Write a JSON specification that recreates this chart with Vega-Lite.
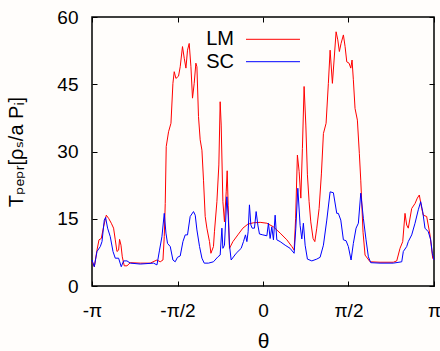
{
  "$schema": "https://vega.github.io/schema/vega-lite/v6.json",
  "width": 342,
  "height": 269,
  "autosize": {"type": "none"},
  "padding": {"left": 92, "top": 17, "right": 6, "bottom": 65},
  "background": "#fffdfb",
  "config": {
    "view": {"stroke": "#000000", "strokeWidth": 1.5},
    "font": "Liberation Sans",
    "axis": {"grid": false, "domain": false, "tickColor": "#000000", "tickWidth": 1, "tickSize": -5, "labelColor": "#000000", "titleColor": "#000000", "labelFont": "Liberation Sans", "titleFont": "Liberation Sans, DejaVu Sans", "titleFontWeight": "normal"}
  },
  "data": {"values": [
    {"series":"LM","theta":-3.1416,"value":5.4},
    {"series":"LM","theta":-3.099,"value":4.3},
    {"series":"LM","theta":-3.050,"value":8.0},
    {"series":"LM","theta":-3.013,"value":10.3},
    {"series":"LM","theta":-2.971,"value":10.6},
    {"series":"LM","theta":-2.929,"value":13.2},
    {"series":"LM","theta":-2.879,"value":15.8},
    {"series":"LM","theta":-2.837,"value":15.1},
    {"series":"LM","theta":-2.787,"value":14.0},
    {"series":"LM","theta":-2.745,"value":12.9},
    {"series":"LM","theta":-2.714,"value":10.3},
    {"series":"LM","theta":-2.683,"value":7.7},
    {"series":"LM","theta":-2.653,"value":8.0},
    {"series":"LM","theta":-2.635,"value":10.4},
    {"series":"LM","theta":-2.609,"value":9.1},
    {"series":"LM","theta":-2.585,"value":6.5},
    {"series":"LM","theta":-2.549,"value":4.5},
    {"series":"LM","theta":-2.499,"value":4.5},
    {"series":"LM","theta":-2.438,"value":5.2},
    {"series":"LM","theta":-2.255,"value":5.1},
    {"series":"LM","theta":-2.071,"value":5.1},
    {"series":"LM","theta":-1.948,"value":5.8},
    {"series":"LM","theta":-1.888,"value":5.4},
    {"series":"LM","theta":-1.838,"value":5.8},
    {"series":"LM","theta":-1.814,"value":11.0},
    {"series":"LM","theta":-1.796,"value":18.4},
    {"series":"LM","theta":-1.778,"value":31.1},
    {"series":"LM","theta":-1.735,"value":34.4},
    {"series":"LM","theta":-1.691,"value":36.3},
    {"series":"LM","theta":-1.655,"value":45.2},
    {"series":"LM","theta":-1.631,"value":47.8},
    {"series":"LM","theta":-1.600,"value":46.3},
    {"series":"LM","theta":-1.552,"value":46.8},
    {"series":"LM","theta":-1.521,"value":48.9},
    {"series":"LM","theta":-1.479,"value":53.4},
    {"series":"LM","theta":-1.447,"value":50.8},
    {"series":"LM","theta":-1.416,"value":48.6},
    {"series":"LM","theta":-1.387,"value":52.6},
    {"series":"LM","theta":-1.356,"value":54.1},
    {"series":"LM","theta":-1.324,"value":48.9},
    {"series":"LM","theta":-1.295,"value":41.9},
    {"series":"LM","theta":-1.264,"value":45.2},
    {"series":"LM","theta":-1.233,"value":49.7},
    {"series":"LM","theta":-1.214,"value":48.9},
    {"series":"LM","theta":-1.185,"value":37.8},
    {"series":"LM","theta":-1.154,"value":32.6},
    {"series":"LM","theta":-1.122,"value":30.3},
    {"series":"LM","theta":-1.093,"value":23.6},
    {"series":"LM","theta":-1.062,"value":15.5},
    {"series":"LM","theta":-1.031,"value":12.9},
    {"series":"LM","theta":-0.983,"value":9.9},
    {"series":"LM","theta":-0.957,"value":7.3},
    {"series":"LM","theta":-0.910,"value":8.8},
    {"series":"LM","theta":-0.892,"value":12.1},
    {"series":"LM","theta":-0.847,"value":18.8},
    {"series":"LM","theta":-0.811,"value":27.0},
    {"series":"LM","theta":-0.787,"value":41.1},
    {"series":"LM","theta":-0.768,"value":35.9},
    {"series":"LM","theta":-0.737,"value":18.8},
    {"series":"LM","theta":-0.708,"value":14.3},
    {"series":"LM","theta":-0.676,"value":21.0},
    {"series":"LM","theta":-0.658,"value":25.7},
    {"series":"LM","theta":-0.640,"value":18.0},
    {"series":"LM","theta":-0.616,"value":8.4},
    {"series":"LM","theta":-0.553,"value":9.9},
    {"series":"LM","theta":-0.462,"value":11.4},
    {"series":"LM","theta":-0.370,"value":12.9},
    {"series":"LM","theta":-0.278,"value":13.8},
    {"series":"LM","theta":-0.175,"value":14.1},
    {"series":"LM","theta":-0.052,"value":14.2},
    {"series":"LM","theta":0.071,"value":14.0},
    {"series":"LM","theta":0.192,"value":13.2},
    {"series":"LM","theta":0.315,"value":11.8},
    {"series":"LM","theta":0.438,"value":10.3},
    {"series":"LM","theta":0.530,"value":8.8},
    {"series":"LM","theta":0.572,"value":8.0},
    {"series":"LM","theta":0.599,"value":15.0},
    {"series":"LM","theta":0.632,"value":29.2},
    {"series":"LM","theta":0.664,"value":25.5},
    {"series":"LM","theta":0.695,"value":19.6},
    {"series":"LM","theta":0.724,"value":30.7},
    {"series":"LM","theta":0.755,"value":44.5},
    {"series":"LM","theta":0.787,"value":35.9},
    {"series":"LM","theta":0.816,"value":24.8},
    {"series":"LM","theta":0.847,"value":18.8},
    {"series":"LM","theta":0.878,"value":14.3},
    {"series":"LM","theta":0.920,"value":10.6},
    {"series":"LM","theta":0.952,"value":9.9},
    {"series":"LM","theta":0.988,"value":12.9},
    {"series":"LM","theta":1.031,"value":17.3},
    {"series":"LM","theta":1.073,"value":25.0},
    {"series":"LM","theta":1.110,"value":34.0},
    {"series":"LM","theta":1.159,"value":36.3},
    {"series":"LM","theta":1.201,"value":45.2},
    {"series":"LM","theta":1.233,"value":52.6},
    {"series":"LM","theta":1.275,"value":45.2},
    {"series":"LM","theta":1.306,"value":50.4},
    {"series":"LM","theta":1.343,"value":56.7},
    {"series":"LM","theta":1.374,"value":54.9},
    {"series":"LM","theta":1.403,"value":52.3},
    {"series":"LM","theta":1.434,"value":54.1},
    {"series":"LM","theta":1.477,"value":56.0},
    {"series":"LM","theta":1.508,"value":53.4},
    {"series":"LM","theta":1.539,"value":50.0},
    {"series":"LM","theta":1.581,"value":49.7},
    {"series":"LM","theta":1.613,"value":48.6},
    {"series":"LM","theta":1.636,"value":50.4},
    {"series":"LM","theta":1.660,"value":46.0},
    {"series":"LM","theta":1.691,"value":39.6},
    {"series":"LM","theta":1.734,"value":37.0},
    {"series":"LM","theta":1.770,"value":29.6},
    {"series":"LM","theta":1.796,"value":23.6},
    {"series":"LM","theta":1.838,"value":12.0},
    {"series":"LM","theta":1.875,"value":6.9},
    {"series":"LM","theta":1.967,"value":5.4},
    {"series":"LM","theta":2.150,"value":5.3},
    {"series":"LM","theta":2.394,"value":5.3},
    {"series":"LM","theta":2.457,"value":5.6},
    {"series":"LM","theta":2.517,"value":8.4},
    {"series":"LM","theta":2.567,"value":9.9},
    {"series":"LM","theta":2.609,"value":16.2},
    {"series":"LM","theta":2.640,"value":13.6},
    {"series":"LM","theta":2.669,"value":12.9},
    {"series":"LM","theta":2.732,"value":17.3},
    {"series":"LM","theta":2.793,"value":18.4},
    {"series":"LM","theta":2.835,"value":19.6},
    {"series":"LM","theta":2.872,"value":20.3},
    {"series":"LM","theta":2.916,"value":17.3},
    {"series":"LM","theta":2.945,"value":15.8},
    {"series":"LM","theta":3.007,"value":15.5},
    {"series":"LM","theta":3.068,"value":11.4},
    {"series":"LM","theta":3.118,"value":6.2},
    {"series":"LM","theta":3.1416,"value":5.8},
    {"series":"SC","theta":-3.1416,"value":5.8},
    {"series":"SC","theta":-3.099,"value":4.3},
    {"series":"SC","theta":-3.050,"value":7.7},
    {"series":"SC","theta":-2.989,"value":8.8},
    {"series":"SC","theta":-2.958,"value":9.9},
    {"series":"SC","theta":-2.916,"value":14.7},
    {"series":"SC","theta":-2.892,"value":15.3},
    {"series":"SC","theta":-2.855,"value":12.9},
    {"series":"SC","theta":-2.806,"value":11.0},
    {"series":"SC","theta":-2.756,"value":7.7},
    {"series":"SC","theta":-2.714,"value":6.2},
    {"series":"SC","theta":-2.653,"value":6.2},
    {"series":"SC","theta":-2.604,"value":4.3},
    {"series":"SC","theta":-2.561,"value":5.6},
    {"series":"SC","theta":-2.499,"value":5.6},
    {"series":"SC","theta":-2.438,"value":5.1},
    {"series":"SC","theta":-2.255,"value":4.9},
    {"series":"SC","theta":-2.010,"value":5.1},
    {"series":"SC","theta":-1.948,"value":4.7},
    {"series":"SC","theta":-1.901,"value":8.0},
    {"series":"SC","theta":-1.857,"value":11.0},
    {"series":"SC","theta":-1.814,"value":16.2},
    {"series":"SC","theta":-1.783,"value":11.8},
    {"series":"SC","theta":-1.754,"value":9.5},
    {"series":"SC","theta":-1.704,"value":8.8},
    {"series":"SC","theta":-1.655,"value":5.8},
    {"series":"SC","theta":-1.613,"value":5.4},
    {"series":"SC","theta":-1.571,"value":6.4},
    {"series":"SC","theta":-1.521,"value":6.7},
    {"series":"SC","theta":-1.471,"value":9.9},
    {"series":"SC","theta":-1.429,"value":11.4},
    {"series":"SC","theta":-1.387,"value":11.4},
    {"series":"SC","theta":-1.338,"value":15.5},
    {"series":"SC","theta":-1.277,"value":16.6},
    {"series":"SC","theta":-1.245,"value":15.8},
    {"series":"SC","theta":-1.214,"value":12.5},
    {"series":"SC","theta":-1.166,"value":8.8},
    {"series":"SC","theta":-1.122,"value":6.2},
    {"series":"SC","theta":-1.080,"value":5.1},
    {"series":"SC","theta":-1.001,"value":5.1},
    {"series":"SC","theta":-0.910,"value":5.4},
    {"series":"SC","theta":-0.829,"value":6.5},
    {"series":"SC","theta":-0.787,"value":6.9},
    {"series":"SC","theta":-0.755,"value":12.9},
    {"series":"SC","theta":-0.737,"value":8.4},
    {"series":"SC","theta":-0.708,"value":9.1},
    {"series":"SC","theta":-0.664,"value":19.9},
    {"series":"SC","theta":-0.640,"value":15.8},
    {"series":"SC","theta":-0.616,"value":9.1},
    {"series":"SC","theta":-0.585,"value":5.8},
    {"series":"SC","theta":-0.493,"value":7.3},
    {"series":"SC","theta":-0.401,"value":8.4},
    {"series":"SC","theta":-0.359,"value":9.9},
    {"series":"SC","theta":-0.322,"value":11.4},
    {"series":"SC","theta":-0.296,"value":9.9},
    {"series":"SC","theta":-0.273,"value":12.1},
    {"series":"SC","theta":-0.249,"value":18.1},
    {"series":"SC","theta":-0.223,"value":13.6},
    {"series":"SC","theta":-0.199,"value":12.9},
    {"series":"SC","theta":-0.157,"value":12.9},
    {"series":"SC","theta":-0.126,"value":16.6},
    {"series":"SC","theta":-0.095,"value":13.6},
    {"series":"SC","theta":-0.065,"value":11.6},
    {"series":"SC","theta":-0.003,"value":11.4},
    {"series":"SC","theta":0.071,"value":11.2},
    {"series":"SC","theta":0.100,"value":14.0},
    {"series":"SC","theta":0.131,"value":10.6},
    {"series":"SC","theta":0.162,"value":13.2},
    {"series":"SC","theta":0.192,"value":10.3},
    {"series":"SC","theta":0.223,"value":15.8},
    {"series":"SC","theta":0.254,"value":10.3},
    {"series":"SC","theta":0.315,"value":9.9},
    {"series":"SC","theta":0.407,"value":9.1},
    {"series":"SC","theta":0.498,"value":8.4},
    {"series":"SC","theta":0.572,"value":7.3},
    {"series":"SC","theta":0.603,"value":12.9},
    {"series":"SC","theta":0.640,"value":21.8},
    {"series":"SC","theta":0.682,"value":13.5},
    {"series":"SC","theta":0.713,"value":10.5},
    {"series":"SC","theta":0.742,"value":14.0},
    {"series":"SC","theta":0.774,"value":9.1},
    {"series":"SC","theta":0.816,"value":6.0},
    {"series":"SC","theta":0.897,"value":5.6},
    {"series":"SC","theta":0.988,"value":6.0},
    {"series":"SC","theta":1.049,"value":6.4},
    {"series":"SC","theta":1.110,"value":9.1},
    {"series":"SC","theta":1.172,"value":14.7},
    {"series":"SC","theta":1.233,"value":21.0},
    {"series":"SC","theta":1.293,"value":20.8},
    {"series":"SC","theta":1.355,"value":16.2},
    {"series":"SC","theta":1.384,"value":16.2},
    {"series":"SC","theta":1.429,"value":14.7},
    {"series":"SC","theta":1.477,"value":10.3},
    {"series":"SC","theta":1.526,"value":10.1},
    {"series":"SC","theta":1.568,"value":8.8},
    {"series":"SC","theta":1.618,"value":5.8},
    {"series":"SC","theta":1.660,"value":9.5},
    {"series":"SC","theta":1.710,"value":12.9},
    {"series":"SC","theta":1.752,"value":14.0},
    {"series":"SC","theta":1.796,"value":20.7},
    {"series":"SC","theta":1.844,"value":15.1},
    {"series":"SC","theta":1.893,"value":10.3},
    {"series":"SC","theta":1.936,"value":6.5},
    {"series":"SC","theta":1.980,"value":5.2},
    {"series":"SC","theta":2.150,"value":5.1},
    {"series":"SC","theta":2.394,"value":5.1},
    {"series":"SC","theta":2.549,"value":5.4},
    {"series":"SC","theta":2.578,"value":7.7},
    {"series":"SC","theta":2.640,"value":8.8},
    {"series":"SC","theta":2.669,"value":9.9},
    {"series":"SC","theta":2.732,"value":11.4},
    {"series":"SC","theta":2.793,"value":14.0},
    {"series":"SC","theta":2.853,"value":17.0},
    {"series":"SC","theta":2.897,"value":18.8},
    {"series":"SC","theta":2.934,"value":16.6},
    {"series":"SC","theta":2.976,"value":12.9},
    {"series":"SC","theta":3.037,"value":12.1},
    {"series":"SC","theta":3.081,"value":10.3},
    {"series":"SC","theta":3.111,"value":7.3},
    {"series":"SC","theta":3.1416,"value":5.8}
  ]},
  "encoding": {
    "color": {
      "field": "series", "type": "nominal",
      "scale": {"domain": ["LM", "SC"], "range": ["#ff0000", "#0000ff"]},
      "legend": {
        "orient": "none", "legendX": 154, "legendY": 12.3, "title": null, "padding": 0,
        "symbolType": "M-5,0H5", "symbolSize": 116.6, "symbolStrokeWidth": 1, "symbolFillColor": "transparent",
        "symbolOffset": 17, "rowPadding": 2.4,
        "labelFontSize": 20, "labelFont": "Liberation Sans", "labelColor": "#000000",
        "labelAlign": "right", "labelBaseline": "middle", "labelOffset": -49
      }
    }
  },
  "layer": [
    {
      "transform": [{"filter": "datum.series === 'LM'"}],
      "mark": {"type": "line", "strokeWidth": 1, "interpolate": "linear"},
      "encoding": {
        "x": {
          "field": "theta", "type": "quantitative",
          "scale": {"domain": [-3.14159265, 3.14159265], "nice": false, "zero": false},
          "axis": {
            "orient": "bottom", "values": [-3.14159265, -1.5707963, 0, 1.5707963, 3.14159265],
            "labelExpr": "datum.value < -3 ? '-π' : datum.value < -1 ? '-π/2' : datum.value < 1 ? '0' : datum.value < 3 ? 'π/2' : 'π'",
            "labelFontSize": 19, "labelPadding": 20.5, "labelFlush": false,
            "title": "θ", "titleFontSize": 21, "titlePadding": 10
          }
        },
        "y": {
          "field": "value", "type": "quantitative",
          "scale": {"domain": [0, 60], "nice": false},
          "axis": {
            "orient": "left", "values": [0, 15, 30, 45, 60],
            "labelFontSize": 19, "labelPadding": 19, "labelFlush": false,
            "title": "Tₚₑₚᵣ[ρₛ/a Pᵢ]", "titleFontSize": 20, "titlePadding": 30
          }
        }
      }
    },
    {
      "transform": [{"filter": "datum.series === 'SC'"}],
      "mark": {"type": "line", "strokeWidth": 1, "interpolate": "linear"},
      "encoding": {
        "x": {
          "field": "theta", "type": "quantitative",
          "axis": {"orient": "top", "values": [-3.14159265, -1.5707963, 0, 1.5707963, 3.14159265], "labels": false, "title": null}
        },
        "y": {
          "field": "value", "type": "quantitative",
          "axis": {"orient": "right", "values": [0, 15, 30, 45, 60], "labels": false, "title": null}
        }
      }
    }
  ]
}
